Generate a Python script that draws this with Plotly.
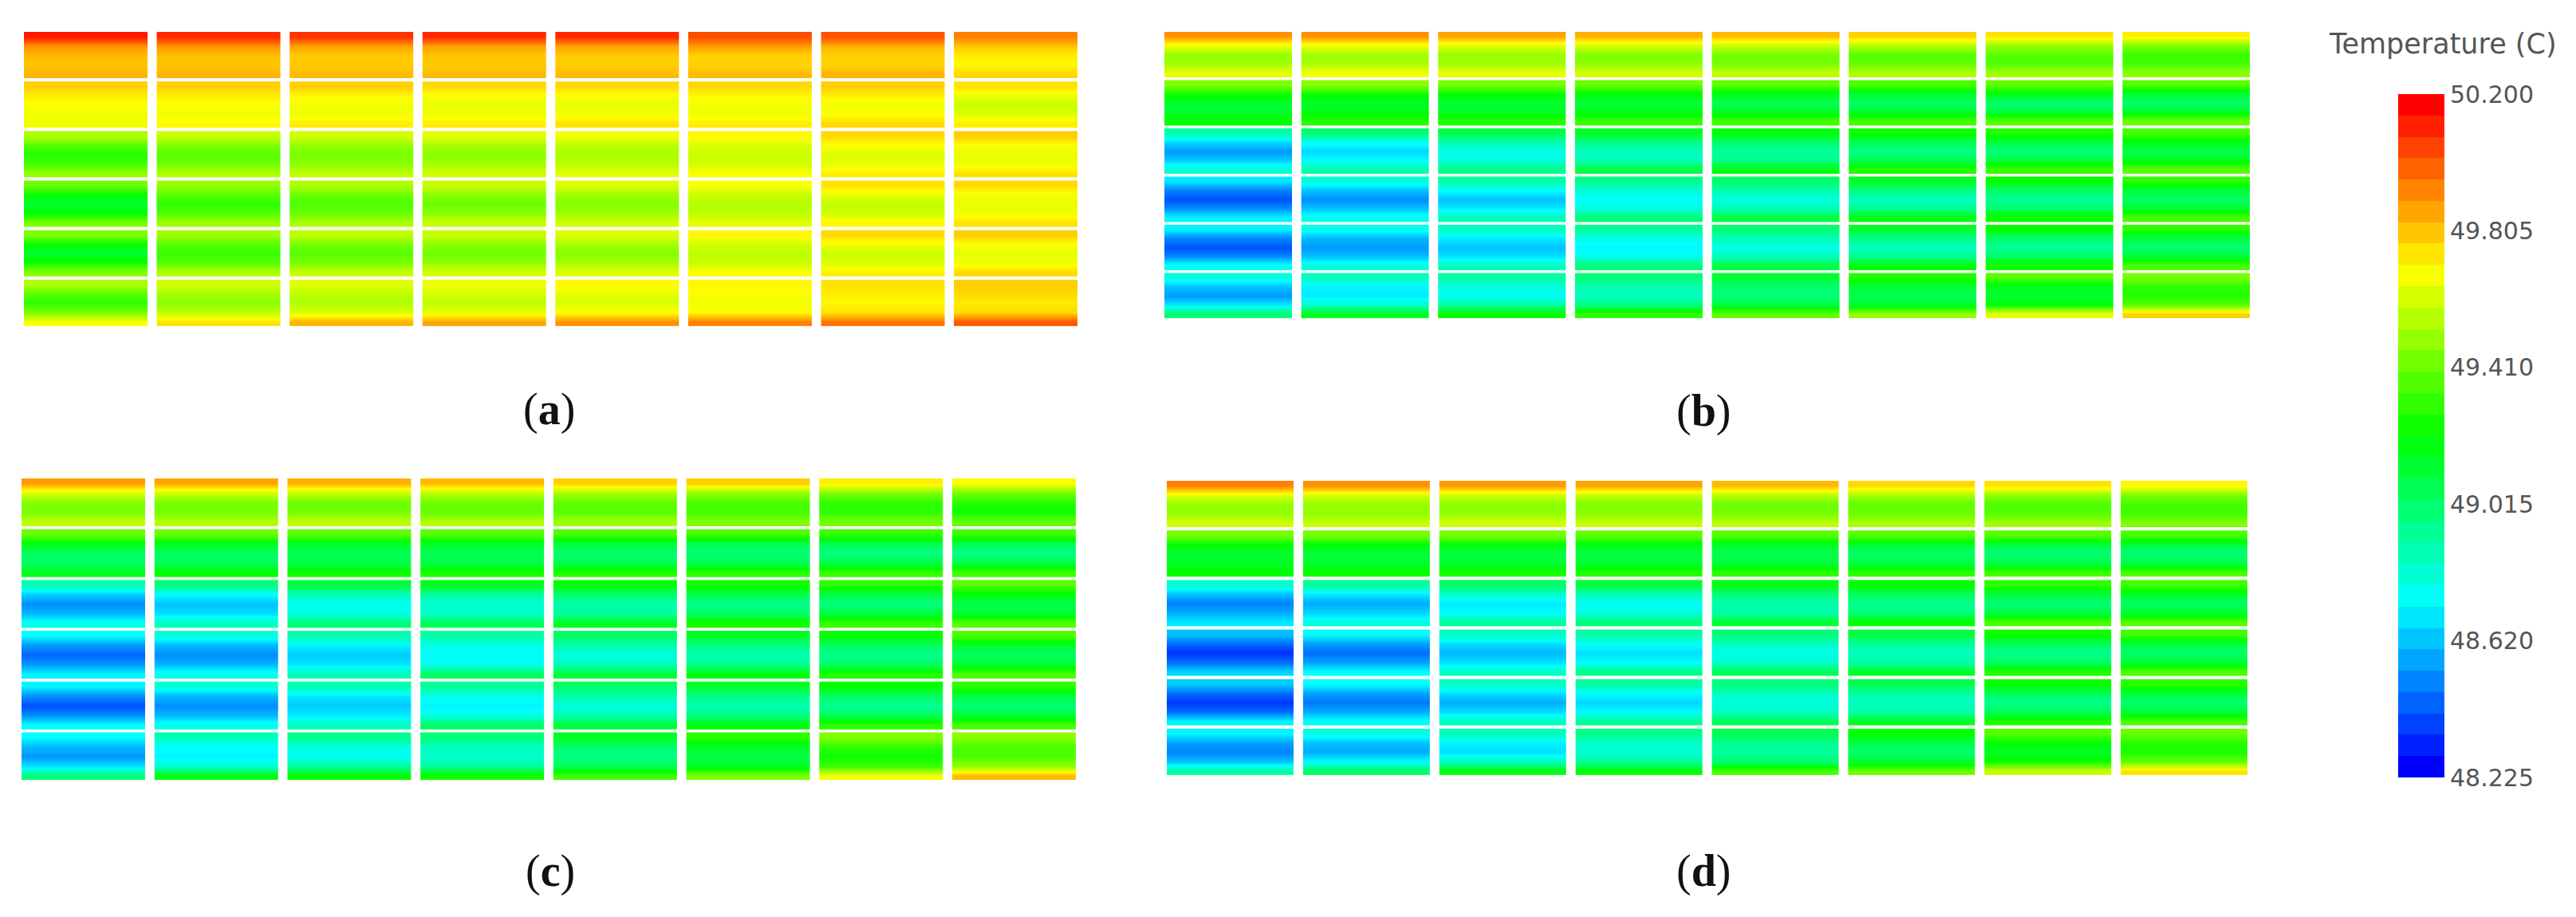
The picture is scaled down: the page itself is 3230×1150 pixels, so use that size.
"""Temperature maps of eight plates in six rows, four cases, one shared scale."""

import numpy as np
import plotly.graph_objects as go

# Deg C. One line per column, six rows, and in each row
# five samples going down: top edge, upper, centre, lower, bottom edge.
TEMPS_A = [
    [[50.15, 49.92, 49.84, 49.82, 49.85], [49.80, 49.74, 49.70, 49.68, 49.68], [49.55, 49.38, 49.28, 49.34, 49.50], [49.42, 49.22, 49.12, 49.22, 49.45], [49.45, 49.22, 49.12, 49.25, 49.47], [49.55, 49.38, 49.30, 49.46, 49.70]],
    [[50.12, 49.92, 49.83, 49.82, 49.85], [49.80, 49.74, 49.70, 49.68, 49.72], [49.60, 49.46, 49.38, 49.43, 49.55], [49.50, 49.38, 49.30, 49.37, 49.52], [49.52, 49.38, 49.32, 49.38, 49.55], [49.62, 49.53, 49.48, 49.58, 49.76]],
    [[50.10, 49.89, 49.81, 49.81, 49.84], [49.80, 49.72, 49.68, 49.68, 49.74], [49.62, 49.50, 49.44, 49.48, 49.58], [49.55, 49.42, 49.36, 49.42, 49.55], [49.58, 49.44, 49.38, 49.45, 49.60], [49.65, 49.57, 49.55, 49.64, 49.85]],
    [[50.12, 49.89, 49.82, 49.81, 49.84], [49.78, 49.70, 49.66, 49.68, 49.74], [49.65, 49.54, 49.48, 49.53, 49.62], [49.60, 49.48, 49.42, 49.48, 49.60], [49.60, 49.48, 49.43, 49.50, 49.62], [49.68, 49.62, 49.58, 49.66, 49.88]],
    [[50.12, 49.89, 49.81, 49.80, 49.84], [49.78, 49.70, 49.66, 49.68, 49.76], [49.68, 49.58, 49.54, 49.57, 49.65], [49.64, 49.52, 49.47, 49.52, 49.62], [49.64, 49.53, 49.47, 49.54, 49.64], [49.72, 49.66, 49.64, 49.70, 49.92]],
    [[50.05, 49.90, 49.80, 49.79, 49.84], [49.78, 49.72, 49.68, 49.68, 49.74], [49.72, 49.64, 49.60, 49.62, 49.70], [49.70, 49.60, 49.56, 49.58, 49.66], [49.72, 49.62, 49.58, 49.60, 49.70], [49.72, 49.70, 49.68, 49.72, 49.95]],
    [[50.04, 49.86, 49.80, 49.79, 49.85], [49.80, 49.74, 49.68, 49.70, 49.78], [49.78, 49.70, 49.64, 49.66, 49.74], [49.76, 49.66, 49.59, 49.62, 49.72], [49.78, 49.68, 49.60, 49.64, 49.74], [49.76, 49.74, 49.72, 49.76, 49.98]],
    [[49.95, 49.82, 49.74, 49.72, 49.78], [49.76, 49.68, 49.60, 49.64, 49.74], [49.80, 49.70, 49.66, 49.68, 49.76], [49.78, 49.68, 49.66, 49.68, 49.76], [49.80, 49.70, 49.66, 49.68, 49.78], [49.80, 49.78, 49.74, 49.78, 50.03]],
]
TEMPS_B = [
    [[49.92, 49.68, 49.50, 49.52, 49.66], [49.46, 49.25, 49.12, 49.12, 49.22], [48.90, 48.65, 48.52, 48.62, 48.80], [48.68, 48.48, 48.38, 48.50, 48.70], [48.70, 48.48, 48.38, 48.50, 48.74], [48.78, 48.60, 48.52, 48.68, 49.00]],
    [[49.92, 49.68, 49.52, 49.54, 49.68], [49.48, 49.24, 49.13, 49.18, 49.28], [49.00, 48.75, 48.64, 48.72, 48.88], [48.80, 48.60, 48.50, 48.60, 48.75], [48.76, 48.58, 48.52, 48.60, 48.78], [48.85, 48.70, 48.68, 48.82, 49.15]],
    [[49.88, 49.65, 49.50, 49.52, 49.66], [49.45, 49.22, 49.12, 49.14, 49.28], [49.08, 48.88, 48.76, 48.78, 48.95], [48.90, 48.72, 48.60, 48.68, 48.85], [48.84, 48.68, 48.60, 48.66, 48.85], [48.90, 48.78, 48.74, 48.90, 49.22]],
    [[49.86, 49.62, 49.46, 49.48, 49.62], [49.42, 49.20, 49.10, 49.16, 49.32], [49.15, 48.95, 48.84, 48.85, 49.08], [48.95, 48.80, 48.72, 48.78, 48.98], [48.92, 48.76, 48.70, 48.76, 48.98], [48.98, 48.88, 48.84, 48.96, 49.30]],
    [[49.84, 49.60, 49.43, 49.44, 49.58], [49.40, 49.16, 49.06, 49.14, 49.34], [49.20, 49.02, 48.90, 48.95, 49.18], [49.02, 48.88, 48.78, 48.85, 49.08], [49.00, 48.85, 48.76, 48.85, 49.08], [49.12, 49.00, 48.98, 49.08, 49.40]],
    [[49.80, 49.56, 49.38, 49.40, 49.55], [49.36, 49.12, 49.02, 49.12, 49.34], [49.24, 49.05, 48.95, 49.05, 49.28], [49.15, 48.96, 48.84, 48.92, 49.18], [49.13, 48.94, 48.84, 48.94, 49.20], [49.28, 49.10, 49.05, 49.12, 49.50]],
    [[49.76, 49.50, 49.38, 49.36, 49.52], [49.40, 49.18, 48.98, 49.10, 49.38], [49.28, 49.10, 48.96, 49.10, 49.32], [49.22, 49.02, 48.92, 49.00, 49.25], [49.22, 49.00, 48.92, 49.02, 49.25], [49.38, 49.16, 49.12, 49.20, 49.66]],
    [[49.74, 49.46, 49.32, 49.34, 49.48], [49.38, 49.12, 49.00, 49.14, 49.42], [49.35, 49.18, 49.06, 49.16, 49.38], [49.30, 49.10, 49.02, 49.12, 49.35], [49.30, 49.08, 49.00, 49.10, 49.36], [49.44, 49.30, 49.28, 49.38, 49.80]],
]
TEMPS_C = [
    [[49.90, 49.64, 49.46, 49.44, 49.58], [49.42, 49.18, 49.02, 49.02, 49.16], [48.88, 48.62, 48.50, 48.58, 48.76], [48.72, 48.52, 48.42, 48.52, 48.70], [48.70, 48.50, 48.38, 48.50, 48.72], [48.72, 48.58, 48.52, 48.66, 48.98]],
    [[49.88, 49.62, 49.44, 49.44, 49.56], [49.42, 49.16, 49.02, 49.04, 49.22], [48.98, 48.72, 48.60, 48.66, 48.85], [48.80, 48.58, 48.50, 48.58, 48.76], [48.80, 48.58, 48.50, 48.58, 48.76], [48.85, 48.72, 48.70, 48.80, 49.18]],
    [[49.86, 49.60, 49.42, 49.44, 49.58], [49.40, 49.14, 49.04, 49.08, 49.24], [49.10, 48.85, 48.74, 48.78, 48.98], [48.88, 48.70, 48.62, 48.68, 48.85], [48.88, 48.68, 48.62, 48.68, 48.85], [48.94, 48.78, 48.74, 48.90, 49.22]],
    [[49.84, 49.58, 49.42, 49.40, 49.56], [49.38, 49.14, 49.04, 49.08, 49.26], [49.16, 48.90, 48.80, 48.82, 49.05], [48.90, 48.76, 48.72, 48.75, 49.02], [48.92, 48.76, 48.70, 48.76, 49.02], [48.98, 48.84, 48.82, 48.90, 49.25]],
    [[49.80, 49.54, 49.40, 49.38, 49.52], [49.36, 49.10, 49.00, 49.06, 49.28], [49.20, 49.00, 48.88, 48.92, 49.15], [49.02, 48.88, 48.78, 48.85, 49.10], [49.02, 48.88, 48.78, 48.86, 49.10], [49.15, 49.00, 48.95, 49.05, 49.34]],
    [[49.80, 49.50, 49.36, 49.34, 49.46], [49.36, 49.06, 48.98, 49.05, 49.30], [49.25, 49.06, 48.94, 49.02, 49.25], [49.14, 48.96, 48.86, 48.95, 49.20], [49.14, 48.95, 48.86, 48.96, 49.20], [49.30, 49.14, 49.08, 49.14, 49.45]],
    [[49.74, 49.46, 49.30, 49.30, 49.44], [49.32, 49.06, 48.96, 49.08, 49.32], [49.30, 49.08, 48.96, 49.10, 49.32], [49.22, 49.02, 48.94, 49.02, 49.28], [49.22, 49.02, 48.92, 49.04, 49.30], [49.46, 49.30, 49.24, 49.32, 49.68]],
    [[49.70, 49.44, 49.28, 49.24, 49.40], [49.34, 49.06, 48.94, 49.08, 49.34], [49.38, 49.18, 49.06, 49.12, 49.38], [49.36, 49.12, 49.02, 49.12, 49.36], [49.30, 49.08, 48.98, 49.10, 49.35], [49.48, 49.36, 49.36, 49.48, 49.84]],
]
TEMPS_D = [
    [[49.95, 49.66, 49.50, 49.50, 49.62], [49.44, 49.22, 49.12, 49.14, 49.22], [48.82, 48.60, 48.48, 48.56, 48.68], [48.60, 48.44, 48.32, 48.44, 48.64], [48.62, 48.44, 48.33, 48.44, 48.70], [48.70, 48.54, 48.48, 48.60, 48.90]],
    [[49.92, 49.64, 49.50, 49.50, 49.60], [49.44, 49.20, 49.10, 49.12, 49.24], [48.92, 48.68, 48.56, 48.64, 48.78], [48.72, 48.54, 48.44, 48.54, 48.72], [48.72, 48.54, 48.46, 48.56, 48.74], [48.78, 48.60, 48.56, 48.72, 49.02]],
    [[49.90, 49.62, 49.48, 49.50, 49.62], [49.44, 49.20, 49.08, 49.12, 49.26], [49.02, 48.82, 48.68, 48.72, 48.92], [48.84, 48.66, 48.58, 48.66, 48.84], [48.84, 48.66, 48.56, 48.66, 48.85], [48.85, 48.70, 48.66, 48.84, 49.18]],
    [[49.88, 49.60, 49.46, 49.48, 49.60], [49.40, 49.18, 49.08, 49.12, 49.28], [49.10, 48.86, 48.74, 48.78, 48.98], [48.90, 48.74, 48.66, 48.72, 48.95], [48.90, 48.72, 48.64, 48.72, 48.92], [48.95, 48.82, 48.80, 48.92, 49.20]],
    [[49.84, 49.58, 49.42, 49.44, 49.58], [49.38, 49.14, 49.06, 49.10, 49.30], [49.18, 48.98, 48.88, 48.88, 49.12], [48.98, 48.84, 48.76, 48.82, 49.05], [48.98, 48.84, 48.78, 48.84, 49.05], [49.06, 48.94, 48.90, 49.00, 49.35]],
    [[49.78, 49.54, 49.40, 49.42, 49.54], [49.38, 49.12, 49.02, 49.08, 49.30], [49.22, 49.04, 48.94, 48.98, 49.22], [49.08, 48.92, 48.84, 48.90, 49.14], [49.06, 48.90, 48.84, 48.90, 49.14], [49.22, 49.08, 49.00, 49.12, 49.42]],
    [[49.76, 49.50, 49.36, 49.38, 49.52], [49.38, 49.10, 48.98, 49.08, 49.34], [49.30, 49.10, 48.98, 49.08, 49.36], [49.24, 49.04, 48.94, 49.02, 49.28], [49.24, 49.04, 48.94, 49.04, 49.28], [49.38, 49.20, 49.14, 49.24, 49.60]],
    [[49.72, 49.46, 49.34, 49.34, 49.46], [49.36, 49.10, 48.98, 49.08, 49.36], [49.34, 49.14, 49.02, 49.12, 49.38], [49.34, 49.10, 49.00, 49.12, 49.36], [49.30, 49.10, 49.00, 49.10, 49.36], [49.42, 49.28, 49.26, 49.40, 49.76]],
]

PANEL_NAMES = ["a", "b", "c", "d"]
SCALE_TICKS = [48.225, 48.620, 49.015, 49.410, 49.805, 50.200]

# Layout, in picture pixels
W, H = 3230, 1150
PANEL_BOX = {  # left, right, top, bottom
    "a": (30, 1351, 40, 409),
    "b": (1460, 2821, 40, 399),
    "c": (27, 1349, 600, 978),
    "d": (1463, 2818, 603, 972),
}
LABEL_POS = {"a": (688, 513), "b": (2136, 515), "c": (690, 1092), "d": (2136, 1092)}
SCALE_BOX = (3007, 3065, 118, 975)

CELL_W = 0.93           # plate width, column pitch = 1
CELL_H = 0.935          # plate height, row pitch = 1
SAMPLE_EDGES = [0, 0.2, 0.4, 0.6, 0.8, 1]

RAINBOW = [
    [0.00, "rgb(0,0,255)"],
    [0.25, "rgb(0,255,255)"],
    [0.50, "rgb(0,255,0)"],
    [0.75, "rgb(255,255,0)"],
    [1.00, "rgb(255,0,0)"],
]
TEXT = "#555555"


def px_x(x):
    return x / W


def px_y(y):
    return 1 - y / H


fig = go.Figure()
tables = [TEMPS_A, TEMPS_B, TEMPS_C, TEMPS_D]
axes = {}

for k, (name, table) in enumerate(zip(PANEL_NAMES, tables)):
    suffix = "" if k == 0 else str(k + 1)
    left, right, top, bottom = PANEL_BOX[name]
    axes[f"xaxis{suffix}"] = dict(
        domain=[px_x(left), px_x(right)], range=[0, len(table) - 1 + CELL_W],
        visible=False, anchor=f"y{suffix}",
    )
    axes[f"yaxis{suffix}"] = dict(
        domain=[px_y(bottom), px_y(top)], range=[len(table[0]) - 1 + CELL_H, 0],
        visible=False, anchor=f"x{suffix}",
    )
    for col, rows in enumerate(table):
        for row, samples in enumerate(rows):
            fig.add_trace(go.Heatmap(
                x=[col, col + CELL_W / 2, col + CELL_W],
                y=[row + e * CELL_H for e in SAMPLE_EDGES],
                z=[[v, v] for v in samples],
                zsmooth="best",
                coloraxis="coloraxis",
                xaxis=f"x{suffix}",
                yaxis=f"y{suffix}",
                hovertemplate="%{z:.2f} C<extra></extra>",
            ))
    cx, cy = LABEL_POS[name]
    fig.add_annotation(
        xref="paper", yref="paper", x=px_x(cx), y=px_y(cy),
        xanchor="center", yanchor="middle",
        text=f"(<b>{name}</b>)", showarrow=False,
        font=dict(family="Liberation Serif", size=56, color="#111111"),
    )

# Colour scale: 32 flat bands on its own axes
band_edges = np.linspace(SCALE_TICKS[0], SCALE_TICKS[-1], 33)
band_levels = np.linspace(SCALE_TICKS[0], SCALE_TICKS[-1], 32)
fig.add_trace(go.Heatmap(
    x=[0, 1], y=band_edges, z=[[v] for v in band_levels],
    coloraxis="coloraxis", xaxis="x5", yaxis="y5",
    hovertemplate="%{z:.3f} C<extra></extra>",
))
axes["xaxis5"] = dict(
    domain=[px_x(SCALE_BOX[0]), px_x(SCALE_BOX[1])], range=[0, 1],
    visible=False, anchor="y5",
)
axes["yaxis5"] = dict(
    domain=[px_y(SCALE_BOX[3]), px_y(SCALE_BOX[2])],
    range=[SCALE_TICKS[0], SCALE_TICKS[-1]], anchor="x5", side="right",
    automargin=False,
    tickvals=SCALE_TICKS, ticktext=[f"{t:.3f}" for t in SCALE_TICKS],
    showgrid=False, zeroline=False, showline=False, ticks="",
    ticklabelstandoff=6,
    tickfont=dict(family="DejaVu Sans", size=30, color=TEXT),
)
fig.add_annotation(
    xref="paper", yref="paper", x=px_x(3063), y=px_y(55),
    xanchor="center", yanchor="middle",
    text="Temperature (C)", showarrow=False,
    font=dict(family="DejaVu Sans", size=35, color=TEXT),
)

fig.update_layout(
    template="none",
    width=W, height=H,
    margin=dict(l=0, r=0, t=0, b=0, autoexpand=False),
    paper_bgcolor="white",
    plot_bgcolor="white",
    showlegend=False,
    coloraxis=dict(colorscale=RAINBOW, cmin=SCALE_TICKS[0], cmax=SCALE_TICKS[-1], showscale=False),
    **axes,
)

# the page's default body margin would push the figure 8 px off
fig.write_html(
    "out.html",
    config=dict(displayModeBar=False),
    post_script="document.body.style.margin='0';",
)
